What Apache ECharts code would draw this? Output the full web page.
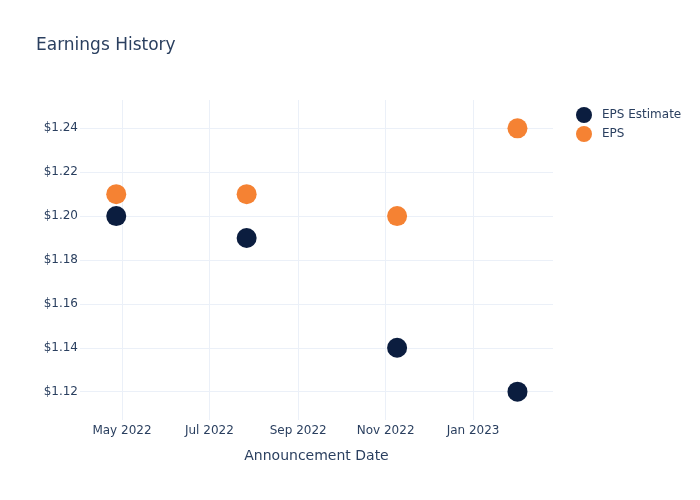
<!DOCTYPE html>
<html>
<head>
<meta charset="utf-8">
<script src="https://cdn.jsdelivr.net/npm/echarts@6/dist/echarts.min.js"></script>
<style>html,body{margin:0;padding:0;background:#fff}#chart{width:700px;height:500px}</style>
</head>
<body>
<div id="chart"></div>
<script>
var announcementDates = ['2022-04-27', '2022-07-27', '2022-11-09', '2023-02-01'];
var epsEstimate = [1.20, 1.19, 1.14, 1.12];
var epsActual = [1.21, 1.21, 1.20, 1.24];
var xTickDates = ['2022-05-01', '2022-07-01', '2022-09-01', '2022-11-01', '2023-01-01'];
var yTickValues = [1.12, 1.14, 1.16, 1.18, 1.20, 1.22, 1.24];
var monthNames = ['Jan','Feb','Mar','Apr','May','Jun','Jul','Aug','Sep','Oct','Nov','Dec'];

function toTime(s) {
  var p = s.split('-');
  return new Date(+p[0], +p[1] - 1, +p[2]).getTime();
}

var FONT = 'DejaVu Sans';
var TEXT = '#2a3f5f';
var GRID = '#EBF0F8';

var chart = echarts.init(document.getElementById('chart'), null, {renderer: 'canvas'});
chart.setOption({
  backgroundColor: '#fff',
  animation: false,
  textStyle: {fontFamily: FONT, color: TEXT},
  title: {
    text: 'Earnings History',
    left: 31, top: 32,
    textStyle: {fontFamily: FONT, fontSize: 17, fontWeight: 'normal', color: TEXT}
  },
  legend: {
    orient: 'vertical',
    left: 576, top: 107,
    padding: 0,
    itemWidth: 26, itemHeight: 16, itemGap: 3,
    icon: 'circle',
    textStyle: {fontFamily: FONT, fontSize: 12, color: TEXT},
    data: ['EPS Estimate', 'EPS']
  },
  grid: {left: 80, right: 147, top: 100, bottom: 80, containLabel: false},
  xAxis: {
    type: 'value',
    min: new Date(2022, 3, 1, 17).getTime(),
    max: new Date(2023, 1, 25, 19).getTime(),
    name: 'Announcement Date',
    nameLocation: 'middle',
    nameGap: 29,
    nameTextStyle: {fontFamily: FONT, fontSize: 14, color: TEXT},
    axisLine: {show: false},
    axisTick: {show: false, customValues: xTickDates.map(toTime)},
    axisLabel: {
      customValues: xTickDates.map(toTime),
      margin: 5,
      fontFamily: FONT, fontSize: 12, color: TEXT,
      formatter: function (v) { var d = new Date(v); return monthNames[d.getMonth()] + ' ' + d.getFullYear(); }
    },
    splitLine: {show: true, lineStyle: {color: GRID, width: 1}}
  },
  yAxis: {
    type: 'value',
    min: 1.1071, max: 1.2529,
    axisLine: {show: false},
    axisTick: {show: false, customValues: yTickValues},
    axisLabel: {
      customValues: yTickValues,
      margin: 2,
      fontFamily: FONT, fontSize: 12, color: TEXT,
      formatter: function (v) { return '$' + v.toFixed(2); }
    },
    splitLine: {show: true, lineStyle: {color: GRID, width: 1}}
  },
  series: [
    {
      name: 'EPS Estimate',
      type: 'scatter',
      symbol: 'circle',
      symbolSize: 20,
      itemStyle: {color: '#0b1d3f', opacity: 1},
      data: announcementDates.map(function (d, i) { return [toTime(d), epsEstimate[i]]; })
    },
    {
      name: 'EPS',
      type: 'scatter',
      symbol: 'circle',
      symbolSize: 20,
      itemStyle: {color: '#f58233', opacity: 1},
      data: announcementDates.map(function (d, i) { return [toTime(d), epsActual[i]]; })
    }
  ]
});
</script>
</body>
</html>
